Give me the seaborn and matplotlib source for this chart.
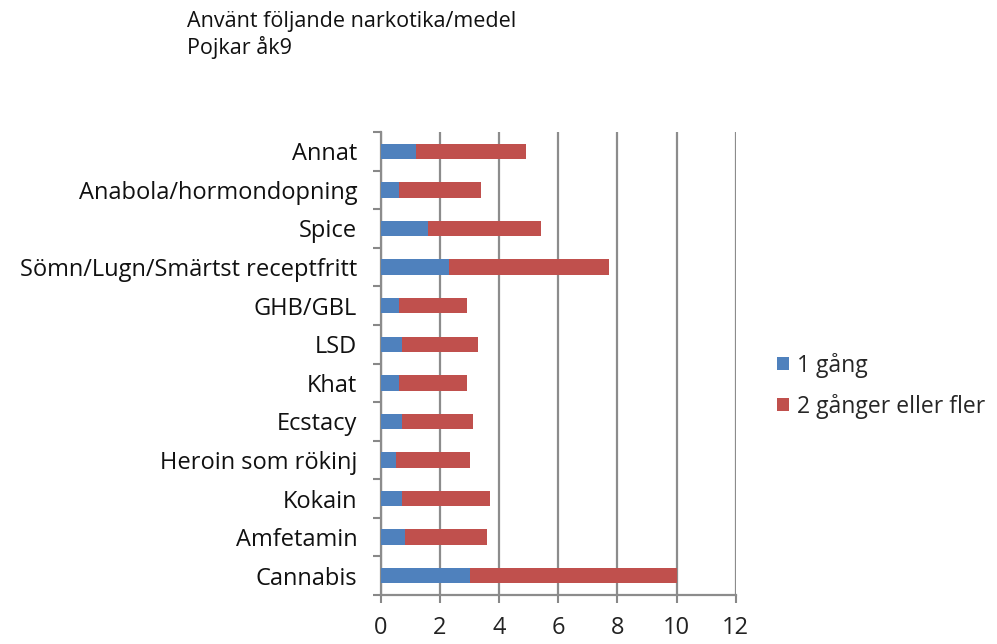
import numpy as np
import pandas as pd
import matplotlib
matplotlib.use("Agg")
import matplotlib.pyplot as plt
from matplotlib.patches import Patch
from matplotlib.ticker import FixedLocator
import seaborn as sns

categories = ["Annat", "Anabola/hormondopning", "Spice", "Sömn/Lugn/Smärtst receptfritt",
              "GHB/GBL", "LSD", "Khat", "Ecstacy", "Heroin som rökinj", "Kokain",
              "Amfetamin", "Cannabis"]
once = [1.2, 0.6, 1.6, 2.3, 0.6, 0.7, 0.6, 0.7, 0.5, 0.7, 0.8, 3.0]
more = [3.7, 2.8, 3.8, 5.4, 2.3, 2.6, 2.3, 2.4, 2.5, 3.0, 2.8, 7.0]
series_names = ["1 gång", "2 gånger eller fler"]
x_ticks = [0, 2, 4, 6, 8, 10, 12]
title_lines = ["Använt följande narkotika/medel", "Pojkar åk9"]

blue = "#4F81BD"
red = "#C0504D"

sns.set_theme(style="white")
plt.rcParams["font.family"] = ["Open Sans", "DejaVu Sans"]

df = pd.DataFrame({"cat": categories, "once": once, "more": more})
df["total"] = df["once"] + df["more"]

fig = plt.figure(figsize=(9.97, 6.44), dpi=100)
ax = fig.add_axes([0.382, 0.076, 0.356, 0.719])

sns.barplot(data=df, y="cat", x="total", color=red, orient="h", width=0.4,
            saturation=1, ax=ax, zorder=3, linewidth=0)
sns.barplot(data=df, y="cat", x="once", color=blue, orient="h", width=0.4,
            saturation=1, ax=ax, zorder=4, linewidth=0)

ax.set_xlim(0, 12)
ax.set_ylim(len(categories) - 0.5, -0.5)
ax.set_xticks(x_ticks)
ax.set_xticklabels([str(t) for t in x_ticks], fontsize=17, color="#222222")
ax.set_xlabel("")
ax.set_ylabel("")
ax.tick_params(axis="y", length=0, labelsize=17, pad=17, labelcolor="#111111")
ax.yaxis.set_minor_locator(FixedLocator(np.arange(-0.5, len(categories), 1.0)))
ax.tick_params(axis="y", which="minor", length=6, width=1.5, color="#888888", direction="out", left=True)
ax.tick_params(axis="x", length=6, width=1.5, color="#888888", direction="out", bottom=True, pad=9)

ax.grid(axis="x", color="#8c8c8c", linewidth=1.6, zorder=0)
ax.grid(axis="y", visible=False)
ax.set_axisbelow(True)
for s in ["top", "right"]:
    ax.spines[s].set_visible(False)
for s in ["left", "bottom"]:
    ax.spines[s].set_color("#8c8c8c")
    ax.spines[s].set_linewidth(1.6)

fig.text(0.1875, 0.966, title_lines[0], fontsize=15.5, color="#111111", va="center")
fig.text(0.1875, 0.926, title_lines[1], fontsize=15.5, color="#111111", va="center")

handles = [Patch(facecolor=blue, edgecolor="none"), Patch(facecolor=red, edgecolor="none")]
fig.legend(handles, series_names, loc="center left", bbox_to_anchor=(0.759, 0.401),
           frameon=False, fontsize=16.5, handlelength=0.5, handleheight=0.5,
           handletextpad=0.35, labelspacing=0.7)

fig.savefig("out.png", dpi=100)
